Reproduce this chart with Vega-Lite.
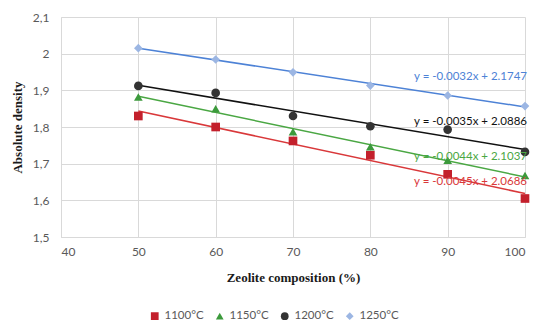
{
  "$schema": "https://vega.github.io/schema/vega-lite/v6.json",
  "width": 464,
  "height": 220,
  "autosize": "none",
  "padding": {"left": 61, "top": 17, "right": 13, "bottom": 83},
  "background": "white",
  "datasets": {
    "points": [
      {"series": "1100°C", "zeolite": 50, "density": 1.83},
      {"series": "1100°C", "zeolite": 60, "density": 1.80},
      {"series": "1100°C", "zeolite": 70, "density": 1.762},
      {"series": "1100°C", "zeolite": 80, "density": 1.723},
      {"series": "1100°C", "zeolite": 90, "density": 1.671},
      {"series": "1100°C", "zeolite": 100, "density": 1.605},
      {"series": "1150°C", "zeolite": 50, "density": 1.882},
      {"series": "1150°C", "zeolite": 60, "density": 1.85},
      {"series": "1150°C", "zeolite": 70, "density": 1.787},
      {"series": "1150°C", "zeolite": 80, "density": 1.746},
      {"series": "1150°C", "zeolite": 90, "density": 1.709},
      {"series": "1150°C", "zeolite": 100, "density": 1.668},
      {"series": "1200°C", "zeolite": 50, "density": 1.912},
      {"series": "1200°C", "zeolite": 60, "density": 1.893},
      {"series": "1200°C", "zeolite": 70, "density": 1.83},
      {"series": "1200°C", "zeolite": 80, "density": 1.802},
      {"series": "1200°C", "zeolite": 90, "density": 1.793},
      {"series": "1200°C", "zeolite": 100, "density": 1.732},
      {"series": "1250°C", "zeolite": 50, "density": 2.015},
      {"series": "1250°C", "zeolite": 60, "density": 1.984},
      {"series": "1250°C", "zeolite": 70, "density": 1.949},
      {"series": "1250°C", "zeolite": 80, "density": 1.913},
      {"series": "1250°C", "zeolite": 90, "density": 1.886},
      {"series": "1250°C", "zeolite": 100, "density": 1.857}
    ],
    "trends": [
      {"series": "1100°C", "zeolite": 50, "density": 1.8436},
      {"series": "1100°C", "zeolite": 100, "density": 1.6186},
      {"series": "1150°C", "zeolite": 50, "density": 1.8837},
      {"series": "1150°C", "zeolite": 100, "density": 1.6637},
      {"series": "1200°C", "zeolite": 50, "density": 1.9136},
      {"series": "1200°C", "zeolite": 100, "density": 1.7386},
      {"series": "1250°C", "zeolite": 50, "density": 2.0147},
      {"series": "1250°C", "zeolite": 100, "density": 1.8547}
    ],
    "equations": [
      {"series": "1100°C", "zeolite": 100, "density": 1.65, "text": "y = -0.0045x + 2.0686"},
      {"series": "1150°C", "zeolite": 100, "density": 1.718, "text": "y = -0.0044x + 2.1037"},
      {"series": "1200°C", "zeolite": 100, "density": 1.813, "text": "y = -0.0035x + 2.0886"},
      {"series": "1250°C", "zeolite": 100, "density": 1.937, "text": "y = -0.0032x + 2.1747"}
    ]
  },
  "config": {
    "view": {"stroke": null},
    "axis": {
      "gridColor": "#d9d9d9",
      "domainColor": "#d9d9d9",
      "ticks": false,
      "labelFont": "Lato",
      "labelFontSize": 12,
      "labelColor": "#595959",
      "titleFont": "Liberation Serif",
      "titleFontSize": 13,
      "titleFontWeight": "bold",
      "titleColor": "#1a1a1a"
    },
    "legend": {
      "labelFont": "Lato",
      "labelFontSize": 11.5,
      "labelColor": "#595959"
    },
    "line": {"strokeWidth": 1.5},
    "text": {"align": "right", "baseline": "middle", "font": "Lato", "fontSize": 11.5, "dx": 2}
  },
  "encoding": {
    "x": {
      "field": "zeolite",
      "type": "quantitative",
      "scale": {"domain": [40, 100], "nice": false},
      "axis": {
        "values": [40, 50, 60, 70, 80, 90, 100],
        "title": "Zeolite composition (%)",
        "labelPadding": 9,
        "titlePadding": 14
      }
    },
    "y": {
      "field": "density",
      "type": "quantitative",
      "scale": {"domain": [1.5, 2.1], "nice": false, "zero": false},
      "axis": {
        "values": [1.5, 1.6, 1.7, 1.8, 1.9, 2.0, 2.1],
        "labelExpr": "replace(format(datum.value, '.2~f'), '.', ',')",
        "title": "Absolute density",
        "labelPadding": 12,
        "titlePadding": 8
      }
    }
  },
  "layer": [
    {
      "data": {"name": "trends"},
      "transform": [{"filter": "datum.series === '1100°C'"}],
      "mark": {"type": "line", "color": "#d9383a"},
      "encoding": {}
    },
    {
      "data": {"name": "trends"},
      "transform": [{"filter": "datum.series === '1150°C'"}],
      "mark": {"type": "line", "color": "#4aa743"},
      "encoding": {}
    },
    {
      "data": {"name": "trends"},
      "transform": [{"filter": "datum.series === '1200°C'"}],
      "mark": {"type": "line", "color": "#111111"},
      "encoding": {}
    },
    {
      "data": {"name": "trends"},
      "transform": [{"filter": "datum.series === '1250°C'"}],
      "mark": {"type": "line", "color": "#4d82d6"},
      "encoding": {}
    },
    {
      "data": {"name": "points"},
      "mark": {"type": "point", "filled": true, "opacity": 1, "size": 75},
      "encoding": {
        "color": {
          "field": "series",
          "type": "nominal",
          "scale": {"domain": ["1100°C", "1150°C", "1200°C", "1250°C"], "range": ["#c3202c", "#3c9a3c", "#333333", "#9cb6e3"]},
          "legend": {
            "title": null,
            "orient": "none",
            "legendX": 88,
            "legendY": 293,
            "direction": "horizontal",
            "symbolSize": 60,
            "columnPadding": 10
          }
        },
        "shape": {
          "field": "series",
          "type": "nominal",
          "scale": {"domain": ["1100°C", "1150°C", "1200°C", "1250°C"], "range": ["square", "triangle-up", "circle", "diamond"]},
          "legend": {
            "title": null,
            "orient": "none",
            "legendX": 88,
            "legendY": 293,
            "direction": "horizontal",
            "symbolSize": 60,
            "columnPadding": 10
          }
        }
      }
    },
    {
      "data": {"name": "equations"},
      "transform": [{"filter": "datum.series === '1100°C'"}],
      "mark": {"type": "text", "color": "#d9383a"},
      "encoding": {"text": {"field": "text"}}
    },
    {
      "data": {"name": "equations"},
      "transform": [{"filter": "datum.series === '1150°C'"}],
      "mark": {"type": "text", "color": "#4aa743"},
      "encoding": {"text": {"field": "text"}}
    },
    {
      "data": {"name": "equations"},
      "transform": [{"filter": "datum.series === '1200°C'"}],
      "mark": {"type": "text", "color": "#111111"},
      "encoding": {"text": {"field": "text"}}
    },
    {
      "data": {"name": "equations"},
      "transform": [{"filter": "datum.series === '1250°C'"}],
      "mark": {"type": "text", "color": "#4d82d6"},
      "encoding": {"text": {"field": "text"}}
    }
  ]
}
